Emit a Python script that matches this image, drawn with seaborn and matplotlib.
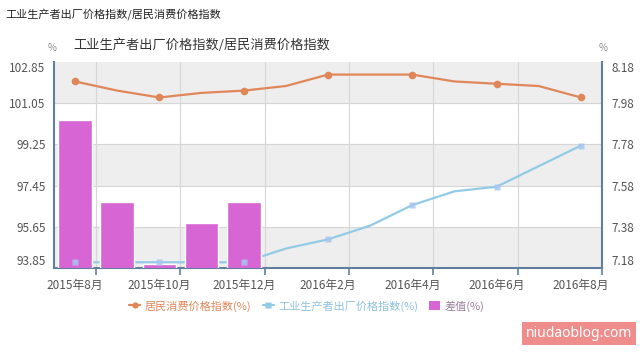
import matplotlib
matplotlib.use("Agg")
import matplotlib.pyplot as plt
import seaborn as sns
import pandas as pd
import numpy as np
from matplotlib.lines import Line2D
from matplotlib.patches import Patch

months = ["2015年8月", "2015年9月", "2015年10月", "2015年11月", "2015年12月",
          "2016年1月", "2016年2月", "2016年3月", "2016年4月", "2016年5月",
          "2016年6月", "2016年7月", "2016年8月"]
cpi = [102.0, 101.6, 101.3, 101.5, 101.6, 101.8, 102.3, 102.3, 102.3, 102.0, 101.9, 101.8, 101.3]
ppi = [94.1, 94.1, 94.1, 94.1, 94.1, 94.7, 95.1, 95.7, 96.6, 97.2, 97.4, 98.3, 99.2]
# bars only visible for the first five months (rest fall below the axis)
diff = [7.9, 7.5, 7.2, 7.4, 7.5, np.nan, np.nan, np.nan, np.nan, np.nan, np.nan, np.nan, np.nan]
left_ticks = [93.85, 95.65, 97.45, 99.25, 101.05, 102.85]
right_ticks = [7.18, 7.38, 7.58, 7.78, 7.98, 8.18]

c_cpi = "#e0875a"
c_ppi = "#92cbe6"
c_diff = "#d766d4"
c_axis = "#5f7f9c"
c_tick = "#555555"

sns.set_style("white")
plt.rcParams["font.family"] = ["Noto Sans CJK SC", "DejaVu Sans"]

df = pd.DataFrame({"pos": np.arange(len(months)), "month": months,
                   "cpi": cpi, "ppi": ppi, "diff": diff})

fig = plt.figure(figsize=(6.4, 3.52), dpi=100)
ax = fig.add_axes([54 / 640, 1 - 268 / 352, 548 / 640, 206 / 352])
ax2 = ax.twinx()

# alternating bands + grid on the left axis
for i in range(0, len(left_ticks) - 1, 2):
    ax.axhspan(left_ticks[i], left_ticks[i + 1], color="#eeeeee", zorder=0, lw=0)
for t in left_ticks[1:-1]:
    ax.axhline(t, color="#d6d6d6", lw=0.8, zorder=0.5)

sns.lineplot(data=df, x="pos", y="cpi", ax=ax, color=c_cpi, lw=1.6,
             marker="o", markersize=5.5, markevery=2, markeredgewidth=0, zorder=3)
sns.lineplot(data=df, x="pos", y="ppi", ax=ax, color=c_ppi, lw=1.6, zorder=3)

sns.barplot(data=df, x="pos", y="diff", ax=ax2, color=c_diff, width=0.8,
            native_scale=True, saturation=1, zorder=2)
# ppi markers drawn above the bars
ax2.plot(df["pos"][::2], df["ppi"][::2], ls="none", marker="s", markersize=5,
         color="#a9c6ee", alpha=0.85, mec="none", transform=ax.transData, zorder=5)

ax.set_xlim(-0.5, len(months) - 0.5)
ax.set_ylim(left_ticks[0], left_ticks[-1])
ax2.set_ylim(right_ticks[0], right_ticks[-1])
ax.set_xlabel("")
ax.set_ylabel("")
ax2.set_xlabel("")
ax2.set_ylabel("")

ax.set_xticks(np.arange(0, len(months), 2))
ax.set_xticklabels(months[::2], fontsize=8.5, color=c_tick)
ax.set_xticks(np.arange(0.5, len(months), 2), minor=True)
ax.tick_params(axis="x", which="major", length=0, pad=8)
ax.tick_params(axis="x", which="minor", length=5, width=1.2, color=c_axis, bottom=True)
ax.grid(axis="x", which="minor", color="#d6d6d6", lw=0.8)
ax.set_axisbelow(True)

ax.set_yticks(left_ticks)
ax.set_yticklabels([f"{v:.2f}" for v in left_ticks], fontsize=8.5, color=c_tick)
ax.tick_params(axis="y", length=0, pad=6)
ax2.set_yticks(right_ticks)
ax2.set_yticklabels([f"{v:.2f}" for v in right_ticks], fontsize=8.5, color=c_tick)
ax2.tick_params(axis="y", length=0, pad=7)
for a in (ax, ax2):
    labs = a.get_yticklabels()
    labs[0].set_va("bottom")
    labs[-1].set_va("top")

for s in ["top", "right"]:
    ax.spines[s].set_visible(False)
for s in ["top", "left", "bottom"]:
    ax2.spines[s].set_visible(False)
for s, a in [("left", ax), ("bottom", ax), ("right", ax2)]:
    a.spines[s].set_color(c_axis)
    a.spines[s].set_linewidth(1.5)

# texts
fig.text(5 / 640, 1 - 14 / 352, "工业生产者出厂价格指数/居民消费价格指数",
         fontsize=8, color="#222222", va="center", ha="left")
fig.text(73 / 640, 1 - 45 / 352, "工业生产者出厂价格指数/居民消费价格指数",
         fontsize=9.5, color="#333333", va="center", ha="left")
fig.text(52 / 640, 1 - 48 / 352, "%", fontsize=7, color="#888888", va="center", ha="center")
fig.text(603 / 640, 1 - 48 / 352, "%", fontsize=7, color="#888888", va="center", ha="center")

handles = [
    Line2D([0], [0], color=c_cpi, lw=1.6, marker="o", markersize=4.5, mec="none"),
    Line2D([0], [0], color=c_ppi, lw=1.6, marker="s", markersize=4.5, mec="none"),
    Patch(facecolor=c_diff, edgecolor="none"),
]
leg = fig.legend(handles, ["居民消费价格指数(%)", "工业生产者出厂价格指数(%)", "差值(%)"],
                 loc="center", bbox_to_anchor=(307 / 640, 1 - 306 / 352), ncol=3,
                 frameon=False, fontsize=8, handlelength=1.0, handleheight=0.9,
                 handletextpad=0.4, columnspacing=1.0)
for txt, col in zip(leg.get_texts(), [c_cpi, "#8fc3dd", "#9a7f9a"]):
    txt.set_color(col)

fig.text(579 / 640, 1 - 333.5 / 352, "niudaoblog.com", fontsize=10, fontweight="bold",
         family="Noto Sans", color="white", ha="center", va="center",
         bbox=dict(boxstyle="square,pad=0.28", fc="#ef8d8d", ec="none"))

fig.savefig("out.png", dpi=100)
